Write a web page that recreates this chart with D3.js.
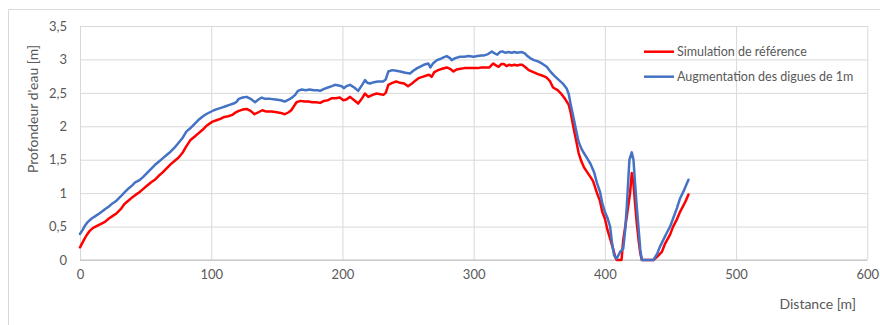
<!DOCTYPE html>
<html>
<head>
<meta charset="utf-8">
<script src="https://cdn.jsdelivr.net/npm/d3@7/dist/d3.min.js"></script>
<style>
  html, body { margin: 0; padding: 0; background: #fff; }
  svg { display: block; }
  text { font-family: Lato, "Open Sans", sans-serif; fill: #595959; }
</style>
</head>
<body>
<svg id="chart" width="880" height="325"></svg>
<script>
// Water depth along the profile (distance in m, depth in m)
const refDistance = [0,3,5,7.6,10,13,16,19,22,25,28,31,34,37,40,42,45,48,51,54,57,60,63,66,69,72,75,78,81,84,87,90,93,96,98,101,104,107,110,113,116,118,121,124,127,130,133,136,139,142,146,150,153,156,159,161,163,165,168,171,174,177,180,183,186,189,192,195,198,200.7,203,205.8,209,212,215,217.2,219.7,223,226,229,231.2,233,235,238,241,244,247,250,253,256,258,261,264,266,268,270,273,276,279.5,282,284.6,287,290,293,296,300,303,306,309,312,315,317,319,321,323,325,327,329,331,333,335.4,337,339,342,345.5,349,352,355.4,358,360.5,364,367,370,372.5,374,376,378,380,382,384,386,388.7,391,394,396.3,398,400,402,404,406.5,408,409,412.7,414,416.7,419.2,420.5,421.8,423,424.3,426,427,428.2,437,440,443.4,446,449.7,452,454.7,457.3,460,462,463.7];
const refDepth = [0.19,0.30,0.37,0.44,0.48,0.51,0.54,0.57,0.62,0.66,0.70,0.76,0.84,0.89,0.94,0.97,1.01,1.06,1.11,1.16,1.20,1.26,1.31,1.37,1.43,1.48,1.53,1.60,1.70,1.79,1.84,1.89,1.94,2.00,2.03,2.07,2.09,2.11,2.14,2.15,2.17,2.20,2.23,2.25,2.26,2.23,2.18,2.21,2.24,2.22,2.22,2.21,2.20,2.18,2.21,2.24,2.30,2.36,2.38,2.37,2.37,2.36,2.36,2.35,2.38,2.39,2.42,2.42,2.43,2.39,2.40,2.44,2.39,2.34,2.42,2.49,2.44,2.47,2.49,2.48,2.47,2.50,2.62,2.65,2.67,2.65,2.64,2.60,2.64,2.69,2.72,2.74,2.76,2.77,2.74,2.81,2.84,2.86,2.88,2.86,2.82,2.85,2.86,2.87,2.87,2.87,2.87,2.88,2.88,2.88,2.94,2.91,2.89,2.93,2.93,2.90,2.92,2.91,2.92,2.91,2.92,2.92,2.89,2.84,2.81,2.78,2.76,2.73,2.68,2.58,2.54,2.48,2.40,2.32,2.20,1.99,1.80,1.60,1.48,1.39,1.33,1.25,1.18,1.00,0.88,0.72,0.62,0.45,0.32,0.15,0.04,0,0,0.30,0.65,1.00,1.30,1.15,0.85,0.55,0.25,0.10,0,0,0.05,0.12,0.25,0.38,0.50,0.60,0.72,0.82,0.90,0.98];

const dykeDistance = [0,2,4,6,8.9,12,15,19,22,25,28,31,34.3,37,40,42,45,48,51,54,57,60,63,66,69,72,75,78,81,84,87,90,93,96,99,102,105,108,111,114,117,119,121,124,127,130,133.4,136,138.5,141,145,149,153,156,159,161,164,166,169,172,175,178,181,183,186,189,192,194.4,197,199.4,201,203,205.8,209,212,215,217.2,219,221,224,227,231,233,235,238,241,244,248,251.5,254,257,259,262,265.5,267,269,272,275,277,279.5,282,283.3,286,289.6,293,296,300,303,306,308,311,313.9,316,318,320,322,324,326.6,329,331,333,336.7,339,341,343,346,349,352,355.7,358,360.8,364,368.4,371,372.5,374,376,378,380,382,384,386.2,389,392,394,396.3,398,400,402,404,405.5,407,409,411.6,414,415.5,416.7,418,418.7,420.5,421.8,423,424.3,426,427,428.2,437,440,442,445,447,449.7,452,455,457.3,460,462,463.7];
const dykeDepth = [0.39,0.45,0.52,0.57,0.62,0.66,0.70,0.76,0.80,0.85,0.89,0.95,1.02,1.07,1.12,1.16,1.19,1.24,1.30,1.36,1.42,1.47,1.52,1.57,1.62,1.68,1.75,1.82,1.92,1.97,2.03,2.09,2.14,2.18,2.21,2.24,2.26,2.28,2.30,2.32,2.34,2.36,2.41,2.43,2.44,2.41,2.36,2.40,2.43,2.41,2.41,2.40,2.39,2.37,2.40,2.42,2.47,2.53,2.55,2.54,2.55,2.54,2.54,2.53,2.56,2.58,2.60,2.62,2.61,2.60,2.57,2.60,2.62,2.58,2.53,2.62,2.69,2.65,2.64,2.66,2.67,2.67,2.70,2.82,2.84,2.83,2.82,2.80,2.79,2.83,2.87,2.89,2.92,2.94,2.88,2.94,2.99,3.01,3.03,3.05,3.02,2.99,3.02,3.04,3.04,3.05,3.04,3.05,3.06,3.06,3.08,3.12,3.09,3.07,3.11,3.12,3.10,3.11,3.10,3.11,3.10,3.11,3.09,3.05,3.02,2.99,2.97,2.94,2.89,2.83,2.77,2.71,2.63,2.56,2.48,2.32,2.14,1.95,1.77,1.67,1.60,1.53,1.44,1.30,1.15,1.02,0.85,0.72,0.63,0.50,0.25,0.07,0.02,0.12,0.17,0.45,0.80,1.25,1.50,1.61,1.50,1.15,0.80,0.40,0.15,0,0,0.10,0.20,0.32,0.40,0.50,0.62,0.78,0.92,1.03,1.12,1.20];

const xTicks = [0, 100, 200, 300, 400, 500, 600];
const yTicks = [0, 0.5, 1, 1.5, 2, 2.5, 3, 3.5];
const seriesNames = ["Simulation de référence", "Augmentation des digues de 1m"];
const seriesColors = ["#ff0000", "#4472c4"];
const xTitle = "Distance [m]";
const yTitle = "Profondeur d'eau [m]";

const svg = d3.select("#chart");
const W = 880, H = 325;
const plot = { left: 80, right: 867.3, top: 26, bottom: 260 };
const font = "Lato, 'Open Sans', sans-serif";

// chart frame (left and top edges visible)
svg.append("path")
  .attr("d", `M8.5,${H + 2}V9.5H${W + 2}`)
  .attr("fill", "none").attr("stroke", "#d9d9d9").attr("stroke-width", 1);

const x = d3.scaleLinear().domain([0, 600]).range([plot.left, plot.right]);
const y = d3.scaleLinear().domain([0, 3.5]).range([plot.bottom, plot.top]);

// horizontal gridlines + y labels
const yAxis = d3.axisLeft(y).tickValues(yTicks)
  .tickFormat(d => String(d).replace(".", ","))
  .tickSize(-(plot.right - plot.left)).tickPadding(13);
const gy = svg.append("g").attr("transform", `translate(${plot.left},0)`).call(yAxis);
gy.select(".domain").remove();
gy.selectAll(".tick line").attr("stroke", "#d9d9d9");
gy.selectAll(".tick text").attr("font-size", 13).attr("fill", "#595959")
  .style("font-family", font);

// vertical gridlines + x labels
const xAxis = d3.axisBottom(x).tickValues(xTicks).tickFormat(d3.format("d"))
  .tickSize(-(plot.bottom - plot.top)).tickPadding(10);
const gx = svg.append("g").attr("transform", `translate(0,${plot.bottom})`).call(xAxis);
gx.select(".domain").remove();
gx.selectAll(".tick line").attr("stroke", "#d9d9d9");
gx.selectAll(".tick text").attr("font-size", 13).attr("fill", "#595959")
  .style("font-family", font);

// baseline
svg.append("line")
  .attr("x1", plot.left).attr("x2", plot.right)
  .attr("y1", y(0)).attr("y2", y(0))
  .attr("stroke", "#bfbfbf").attr("stroke-width", 1);

// series
const line = d3.line().x(d => x(d[0])).y(d => y(d[1]));
const series = [
  d3.zip(refDistance, refDepth),
  d3.zip(dykeDistance, dykeDepth)
];
series.forEach((pts, i) => {
  svg.append("path")
    .datum(pts)
    .attr("d", line)
    .attr("fill", "none")
    .attr("stroke", seriesColors[i])
    .attr("stroke-width", 2.5)
    .attr("stroke-linejoin", "round")
    .attr("stroke-linecap", "round");
});

// legend
const legend = svg.append("g").attr("transform", "translate(644,0)");
seriesNames.forEach((name, i) => {
  const ly = 51.7 + i * 25;
  legend.append("line")
    .attr("x1", 0).attr("x2", 30).attr("y1", ly).attr("y2", ly)
    .attr("stroke", seriesColors[i]).attr("stroke-width", 2.5);
  legend.append("text")
    .attr("x", 33).attr("y", ly).attr("dy", "0.35em")
    .attr("font-size", 12.5)
    .text(name);
});

// axis titles
svg.append("text")
  .attr("x", 856).attr("y", 304).attr("dy", "0.35em")
  .attr("text-anchor", "end").attr("font-size", 14)
  .text(xTitle);
svg.append("text")
  .attr("transform", "translate(33,109) rotate(-90)")
  .attr("text-anchor", "middle").attr("dy", "0.35em").attr("font-size", 14)
  .text(yTitle);
</script>
</body>
</html>
